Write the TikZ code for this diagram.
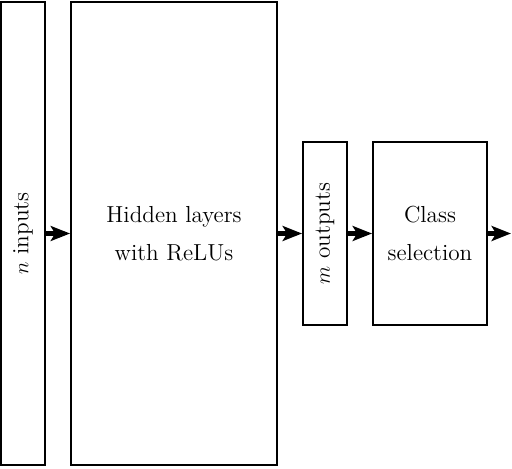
\documentclass[tikz,border=0pt]{standalone}
\usepackage{amsmath}
\usetikzlibrary{arrows.meta}

\begin{document}
\begin{tikzpicture}[x=0.02cm,y=-0.02cm]
      \tikzstyle{block}=[draw,line width=1.1pt,inner sep=0pt,font=\fontsize{13.2}{21.5}\selectfont,align=center]
      \tikzstyle{flow}=[line width=2.6pt,-{Stealth[length=11pt,width=8.5pt,inset=2.5pt]}]
      \useasboundingbox (0,0) rectangle (512,468);
      \node[block,minimum width=0.88cm,minimum height=9.26cm] (In) at (23,233.5) {};
      \node[rotate=90,font=\fontsize{13.2}{21.5}\selectfont] at (In) {$n$ inputs};
      \node[block,minimum width=4.12cm,minimum height=9.26cm] (Hid) at (174,233.5) {Hidden layers\\with ReLUs};
      \node[block,minimum width=0.88cm,minimum height=3.66cm] (Out) at (325,233.5) {};
      \node[rotate=90,font=\fontsize{13.2}{21.5}\selectfont] at (Out) {$m$ outputs};
      \node[block,minimum width=2.28cm,minimum height=3.66cm] (Sel) at (430,233.5) {Class\\selection};
      \coordinate (End) at (511,233.5);
      \draw[flow] (In.east |- 0,233.5) -- (Hid.west |- 0,233.5);
      \draw[flow] (Hid) -- (Out);
      \draw[flow] (Out) -- (Sel);
      \draw[flow] (Sel) -- (End);
    \end{tikzpicture}
\end{document}
